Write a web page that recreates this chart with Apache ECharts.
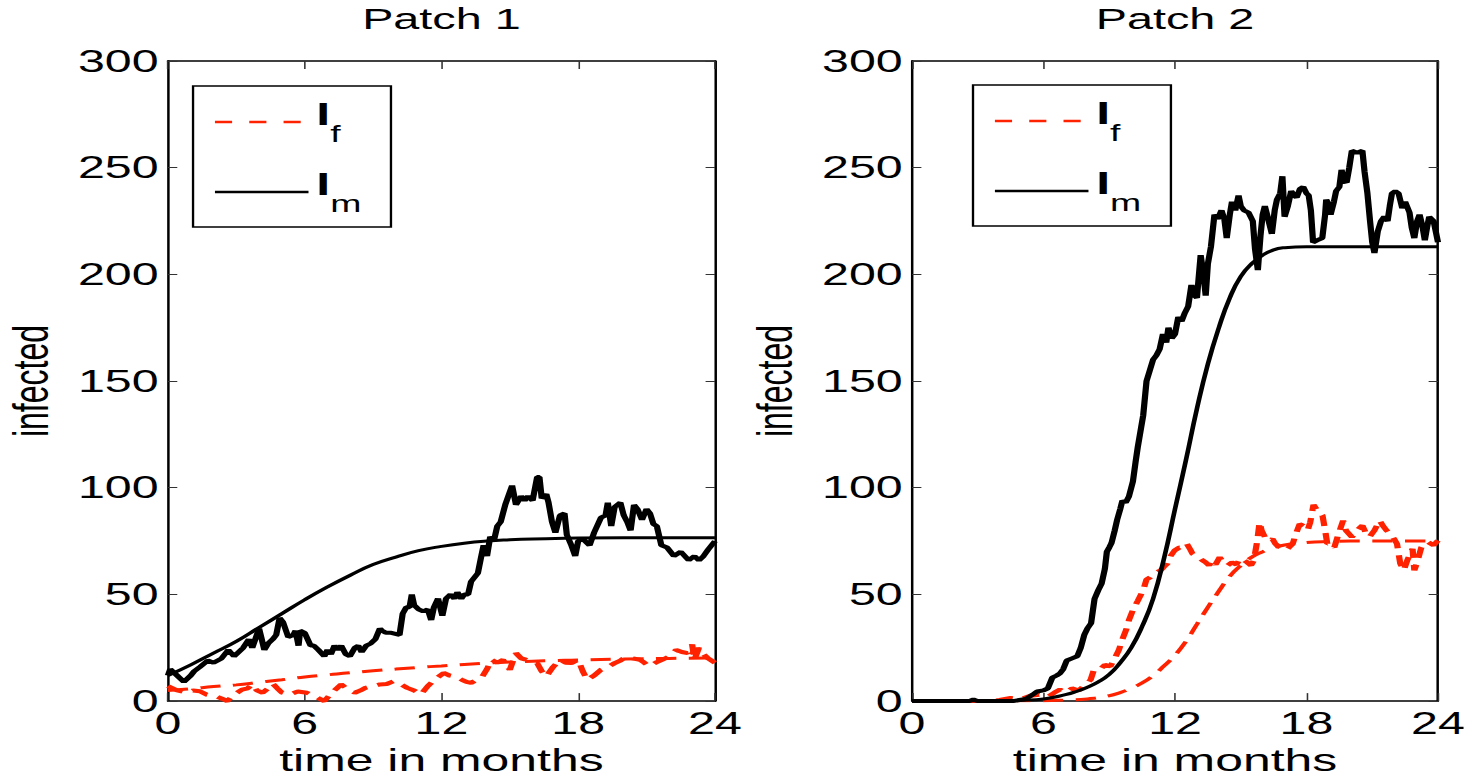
<!DOCTYPE html>
<html>
<head>
<meta charset="utf-8">
<script src="https://cdn.jsdelivr.net/npm/echarts@6/dist/echarts.min.js"></script>
<style>
  html, body { margin: 0; padding: 0; background: #fff; overflow: hidden; }
  /* the reference is a horizontally stretched figure, so draw narrow and stretch */
  #wrap { width: 944px; height: 781px; transform: scaleX(1.5593); transform-origin: 0 0; }
  #main { width: 944px; height: 781px; }
</style>
</head>
<body>
<div id="wrap"><div id="main"></div></div>
<script>
// time ticks (months) and infected ticks
const timeTicks = [0, 6, 12, 18, 24];
const infectedTicks = [0, 50, 100, 150, 200, 250, 300];
const panelTitles = ['Patch 1', 'Patch 2'];

// Patch 1: [month, infected]
const p1FemaleStoch = [[0,7],[0.4,5],[0.85,3.9],[1.1,5],[1.4,4.6],[1.7,3],[2.1,2.3],[2.4,1],[2.6,0],[2.9,3],[3.25,5.4],[3.5,6],[3.7,7.8],[3.9,5],[4.15,3.9],[4.4,6],[4.6,8.2],[4.8,6],[5.0,4],[5.35,3.1],[5.7,4.5],[6.1,3.9],[6.5,2],[6.86,0],[7.2,4],[7.6,7.8],[7.9,5.5],[8.2,3.9],[8.45,5],[8.66,6.2],[9.0,7],[9.3,7.8],[9.6,8],[9.9,9.3],[10.2,8],[10.5,6.2],[10.8,5],[11.1,3.1],[11.4,7],[11.7,10],[12.1,13.2],[12.35,12],[12.6,11.6],[12.9,10],[13.1,9],[13.3,8.5],[13.55,10],[13.8,11.6],[14.0,15],[14.2,19.4],[14.45,18],[14.7,19.4],[15.0,14.7],[15.27,22.5],[15.5,20],[15.7,19.4],[15.95,18],[16.2,17.8],[16.4,14],[16.6,11.6],[16.9,16],[17.2,19.4],[17.45,18],[17.7,17.8],[18.0,19.4],[18.2,14],[18.4,10],[18.7,12],[19.0,14.7],[19.3,16],[19.6,17.8],[19.85,19],[20.1,20.9],[20.4,20],[20.7,19.4],[20.9,18],[21.1,16.3],[21.4,18],[21.7,19.4],[22.0,21],[22.3,24],[22.55,23],[22.8,22.5],[23.0,26.5],[23.1,19.4],[23.3,25],[23.5,22],[23.7,20],[24,18]];
const p1FemaleDet = [[0,5],[1,5.8],[2,6.8],[3,7.6],[4,8.8],[5,10],[6,11.3],[7,12.3],[8,13.3],[9,14.2],[10,15],[11,15.8],[12,16.5],[13,17.2],[14,17.8],[15,18.3],[16,18.7],[17,19],[18,19.3],[20,19.7],[22,20],[24,20.2]];
const p1MaleStoch = [[0,12],[0.1,15],[0.4,12],[0.7,9],[1.0,12],[1.15,14],[1.4,16],[1.75,19],[2.0,18],[2.35,20],[2.65,24],[2.9,21],[3.1,23],[3.3,25],[3.55,29],[3.7,25],[4.0,34],[4.23,24],[4.4,27],[4.6,29],[4.75,31],[4.9,39],[5.05,37],[5.28,30],[5.5,31],[5.6,33],[5.73,26],[5.8,33],[6.0,32],[6.26,26],[6.4,26],[6.6,24],[6.86,21],[7.0,24],[7.15,22],[7.31,26],[7.45,24],[7.6,26],[7.8,22],[7.98,21],[8.2,25],[8.35,26],[8.5,23],[8.7,26],[8.9,27],[9.1,29],[9.3,34],[9.4,33],[9.56,32],[9.8,32],[10.16,31],[10.3,41],[10.46,44],[10.6,44],[10.7,50],[10.8,45],[11.0,43],[11.2,42],[11.4,43],[11.55,38],[11.67,44],[11.85,48],[12.04,40],[12.2,48],[12.4,50],[12.57,48],[12.7,51],[12.87,48],[13.0,50],[13.17,50],[13.3,56],[13.45,58],[13.6,60],[13.75,68],[13.85,73],[14.0,68],[14.14,77],[14.3,75],[14.45,82],[14.6,84],[14.8,92],[15.0,98],[15.1,101],[15.27,92],[15.5,96],[15.65,94],[15.8,96],[16.0,94],[16.2,105],[16.3,105],[16.4,95],[16.6,97],[16.7,93],[16.85,84],[17.0,79],[17.2,87],[17.4,88],[17.5,78],[17.7,73],[17.87,68],[18.0,75],[18.2,76],[18.5,73],[18.7,79],[19.0,86],[19.2,87],[19.3,93],[19.45,82],[19.6,91],[19.85,93],[20.0,87],[20.15,84],[20.3,80],[20.45,92],[20.6,90],[20.8,85],[21.0,90],[21.15,88],[21.3,83],[21.45,82],[21.65,73],[21.9,72],[22.2,68],[22.5,70],[22.85,66],[23.1,68],[23.3,66],[23.5,68],[23.7,71],[24,75]];
const p1MaleDet = [[0,12],[1,17],[2,22.5],[3,28],[4,34.5],[5,41],[6,47.5],[7,53.5],[8,59],[9,64],[10,67.5],[11,70.5],[12,72.5],[13,74],[14,75],[15,75.6],[16,76],[17,76.2],[18,76.4],[20,76.5],[22,76.5],[24,76.5]];

// Patch 2: [month, infected]
const p2FemaleStoch = [[0,0],[3.5,0],[4.0,0.5],[4.5,1.5],[5.0,1],[5.4,2.5],[5.8,3],[6.2,2],[6.5,4],[6.75,5.4],[7.0,4],[7.3,6],[7.6,5],[8.0,8.5],[8.15,10],[8.3,14.7],[8.6,15],[8.8,17],[9.05,16.3],[9.25,20],[9.44,24],[9.6,29],[9.77,33.4],[9.9,38],[10.08,42.7],[10.3,47],[10.55,52],[10.7,57],[10.87,58],[11.1,60],[11.35,61.3],[11.5,63],[11.65,64.4],[11.8,68],[11.98,70.6],[12.2,72],[12.4,72],[12.54,73.7],[12.7,71],[12.8,69],[13.0,68],[13.25,66],[13.4,65],[13.55,63.6],[13.7,66],[13.85,64],[14.04,67.4],[14.2,65],[14.4,63.6],[14.6,65],[14.8,64],[15.0,67],[15.15,66],[15.3,65],[15.47,63.6],[15.6,66],[15.75,75],[15.86,83.8],[15.95,80],[16.1,76.9],[16.3,75],[16.45,76],[16.58,73.7],[16.8,72],[17.05,70.6],[17.2,72],[17.37,73.7],[17.5,78],[17.69,83],[17.9,82],[18.05,80],[18.17,83.8],[18.32,92],[18.45,90],[18.56,88.6],[18.73,87],[18.85,80],[18.95,73.7],[19.1,74],[19.27,72],[19.45,78],[19.67,84.6],[19.8,80],[20.07,76.9],[20.3,80],[20.55,82.3],[20.7,79],[20.87,76.9],[21.1,80],[21.34,84.6],[21.5,82],[21.65,80],[21.82,78.4],[22.0,76],[22.13,73.7],[22.28,64.4],[22.44,61.3],[22.6,66],[22.84,71.4],[22.92,61.3],[23.05,65],[23.24,72],[23.4,74],[23.56,74.5],[23.8,73],[24,75.3]];
const p2FemaleDet = [[0,0],[6,0.2],[7,0.5],[8,1],[9,2.5],[9.5,4],[10,6],[10.5,8.5],[11,12],[11.5,16.5],[12,21.5],[12.5,28],[13,36],[13.5,44],[14,51.5],[14.5,58.5],[15,63.5],[15.5,67.5],[16,70],[16.5,72],[17,73.2],[18,74.3],[19,74.8],[20,75],[24,75]];
const p2MaleStoch = [[0,0],[2.6,0],[2.8,0.8],[3.0,0],[4.6,0],[4.9,0.5],[5.2,1],[5.5,3],[5.7,4.5],[6.0,5],[6.2,6],[6.4,11],[6.6,12],[6.75,13],[6.9,15],[7.06,19],[7.3,20],[7.54,21],[7.7,25],[7.86,31],[8.0,34],[8.17,36.5],[8.33,48],[8.5,52],[8.65,55],[8.8,62],[8.89,70],[9.0,72],[9.1,74],[9.25,80],[9.36,85],[9.5,90],[9.6,94],[9.75,93],[9.9,96],[10.08,103],[10.2,112],[10.3,119],[10.45,128],[10.55,134],[10.7,150],[10.85,155],[11.0,160],[11.15,162],[11.3,165],[11.45,172],[11.6,168],[11.7,175],[11.85,170],[12.0,172],[12.15,180],[12.3,178],[12.45,182],[12.6,185],[12.75,195],[12.9,190],[13.0,189],[13.17,209],[13.3,200],[13.4,190],[13.5,205],[13.64,213],[13.8,228],[13.95,226],[14.12,230],[14.25,226],[14.36,217],[14.5,228],[14.6,234],[14.75,230],[14.9,237],[15.0,232],[15.15,230],[15.35,229],[15.55,225],[15.65,212],[15.78,202],[15.9,218],[16.0,228],[16.1,232],[16.25,226],[16.42,219],[16.55,230],[16.65,235],[16.8,238],[16.9,246],[17.0,227],[17.15,232],[17.3,239],[17.45,237],[17.55,236],[17.7,240],[17.85,241],[18.0,238],[18.1,237],[18.2,230],[18.3,215],[18.5,216],[18.72,217],[18.85,228],[18.9,235],[19.0,233],[19.1,228],[19.25,234],[19.35,239],[19.5,241],[19.6,249],[19.7,244],[19.83,243],[19.95,250],[20.07,258],[20.3,257],[20.55,258],[20.65,248],[20.78,238],[20.9,225],[21.0,215],[21.1,210],[21.25,220],[21.4,225],[21.55,227],[21.7,225],[21.8,232],[21.9,238],[22.05,239],[22.2,238],[22.37,231],[22.5,234],[22.7,229],[22.8,222],[22.92,217],[23.05,225],[23.16,228],[23.3,222],[23.4,216],[23.5,222],[23.6,227],[23.8,225],[24,215]];
const p2MaleDet = [[0,0],[4,0.1],[5,0.4],[6,1],[7,3],[7.5,4.5],[8,6.5],[8.5,9],[9,12.5],[9.5,18],[10,25],[10.5,35],[11,48],[11.5,67],[12,90],[12.5,113],[13,137],[13.5,158],[14,175],[14.5,189],[15,199],[15.5,205],[16,209],[16.5,211.5],[17,212.5],[18,213],[20,213],[22,213],[24,213]];

const FONT = 'Liberation Sans';
const RED = '#ff2200';

const grids = [
    { left: 107.7, top: 61, width: 350.8, height: 644 },
    { left: 584.9, top: 61, width: 337.3, height: 644 }
];

function xAxes(gi) {
    const base = {
        gridIndex: gi, type: 'value', min: timeTicks[0], max: timeTicks[timeTicks.length - 1],
        interval: timeTicks[1] - timeTicks[0],
        splitLine: { show: false },
        axisLine: { onZero: false, lineStyle: { color: '#000', width: 1.6 } },
        axisTick: { inside: true, length: 8, lineStyle: { color: '#333', width: 1 } }
    };
    return [
        Object.assign({}, base, {
            position: 'bottom',
            axisLabel: { color: '#000', fontSize: 31, fontFamily: FONT, margin: 7 },
            name: 'time in months', nameLocation: 'middle', nameGap: 40,
            nameTextStyle: { color: '#000', fontSize: 32, fontFamily: FONT }
        }),
        Object.assign({}, base, { position: 'top', axisLabel: { show: false } })
    ];
}

function yAxes(gi) {
    const base = {
        gridIndex: gi, type: 'value', min: infectedTicks[0], max: infectedTicks[infectedTicks.length - 1],
        interval: infectedTicks[1] - infectedTicks[0],
        splitLine: { show: false },
        axisLine: { show: true, onZero: false, lineStyle: { color: '#000', width: 1.6 } },
        axisTick: { show: true, inside: true, length: 6, lineStyle: { color: '#333', width: 1 } }
    };
    return [
        Object.assign({}, base, {
            position: 'left',
            axisLabel: { color: '#000', fontSize: 31, fontFamily: FONT, margin: 6 },
            name: 'infected', nameLocation: 'middle', nameGap: 72, nameRotate: 90,
            nameTextStyle: { color: '#000', fontSize: 32, fontFamily: FONT }
        }),
        Object.assign({}, base, { position: 'right', axisLabel: { show: false } })
    ];
}

function panelSeries(gi, femaleStoch, femaleDet, maleStoch, maleDet) {
    const common = { type: 'line', symbol: 'none', xAxisIndex: gi * 2, yAxisIndex: gi * 2 };
    return [
        Object.assign({ name: 'If det', data: femaleDet, smooth: true,
            lineStyle: { color: RED, width: 3, type: [13, 8] } }, common),
        Object.assign({ name: 'If', data: femaleStoch,
            lineStyle: { color: RED, width: 4, type: [11, 7] } }, common),
        Object.assign({ name: 'Im det', data: maleDet, smooth: true,
            lineStyle: { color: '#000', width: 3 } }, common),
        Object.assign({ name: 'Im', data: maleStoch,
            lineStyle: { color: '#000', width: 4 } }, common)
    ];
}

function legendFor(left, top) {
    return {
        left: left, top: top, orient: 'vertical', selectedMode: false,
        borderColor: '#000', borderWidth: 1.5, borderRadius: 0,
        padding: [12, 19, 11, 12.8],
        itemWidth: 60, itemHeight: 40, itemGap: 22, textGap: 21,
        itemStyle: { opacity: 0 },
        data: [
            { name: 'If', itemStyle: { opacity: 0 }, lineStyle: { color: RED, width: 2.5, type: [11, 11] } },
            { name: 'Im', itemStyle: { opacity: 0 }, lineStyle: { color: '#000', width: 2.5, type: 'solid' } }
        ],
        formatter: name => name === 'If' ? '{a|I}{b|f}' : '{a|I}{b|m}',
        textStyle: {
            rich: {
                a: { fontSize: 32, fontWeight: 'bold', fontFamily: FONT, color: '#000', lineHeight: 48, verticalAlign: 'top' },
                b: { fontSize: 24, fontFamily: FONT, color: '#000', lineHeight: 24, verticalAlign: 'bottom' }
            }
        }
    };
}

const chart = echarts.init(document.getElementById('main'), null, { renderer: 'svg' });
chart.setOption({
    animation: false,
    backgroundColor: '#fff',
    title: panelTitles.map((t, i) => ({
        text: t, left: grids[i].left + grids[i].width / 2, top: 3, textAlign: 'center', padding: 0,
        textStyle: { color: '#000', fontSize: 30, fontWeight: 'normal', fontFamily: FONT }
    })),
    legend: [legendFor(123.8, 86), legendFor(624, 85)],
    grid: grids,
    xAxis: xAxes(0).concat(xAxes(1)),
    yAxis: yAxes(0).concat(yAxes(1)),
    series: panelSeries(0, p1FemaleStoch, p1FemaleDet, p1MaleStoch, p1MaleDet)
        .concat(panelSeries(1, p2FemaleStoch, p2FemaleDet, p2MaleStoch, p2MaleDet))
});
</script>
</body>
</html>
